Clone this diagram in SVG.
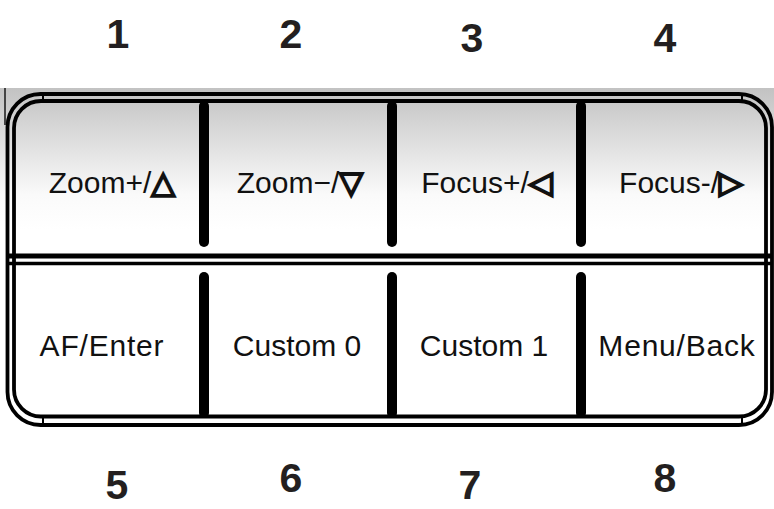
<svg xmlns="http://www.w3.org/2000/svg" width="774" height="509" viewBox="0 0 774 509">
  <defs>
    <linearGradient id="topShade" x1="0" y1="88" x2="0" y2="230" gradientUnits="userSpaceOnUse">
      <stop offset="0" stop-color="#c2c2c2"/>
      <stop offset="0.75" stop-color="#fafafa"/>
      <stop offset="1" stop-color="#ffffff"/>
    </linearGradient>
  </defs>
  <style>
    .frame { fill: none; stroke: #000; stroke-width: 3.8; }
    .bar { stroke: #000; stroke-width: 10; stroke-linecap: round; }
    .lbl { font-family: "Liberation Sans", Arial, sans-serif; font-size: 30px; fill: #111; text-anchor: middle; }
    .sym { font-family: "DejaVu Sans", sans-serif; font-weight: normal; font-size: 31px; stroke: #111; stroke-width: 2.2; }
    .wide { letter-spacing: 0.8px; }
    .num { font-family: "Liberation Sans", Arial, sans-serif; font-weight: bold; font-size: 41px; fill: #231f20; text-anchor: middle; }
  </style>
  <rect x="0" y="0" width="774" height="509" fill="#fff"/>
  <rect x="0" y="88" width="774" height="172" fill="url(#topShade)"/>
  <rect x="16" y="266" width="748" height="149" fill="#fff"/>
  <line x1="5" y1="88" x2="5" y2="125" stroke="#444" stroke-width="2"/>

  <g id="frame">
    <rect class="frame" x="7.5" y="94" width="764.5" height="331" rx="33"/>
    <rect class="frame" x="14" y="101" width="752" height="315.5" rx="27"/>
    <line x1="7.5" y1="256" x2="772" y2="256" stroke="#000" stroke-width="5"/>
    <line x1="7.5" y1="263.5" x2="772" y2="263.5" stroke="#000" stroke-width="3.5"/>
    <g stroke="#000" stroke-width="2">
      <line x1="43" y1="93" x2="43" y2="102"/>
      <line x1="742" y1="93" x2="742" y2="102"/>
      <line x1="43" y1="415" x2="43" y2="426"/>
      <line x1="742" y1="415" x2="742" y2="426"/>
    </g>
  </g>

  <g id="connectors">
    <line class="bar" x1="204" y1="106" x2="204" y2="242"/>
    <line class="bar" x1="392" y1="106" x2="392" y2="242"/>
    <line class="bar" x1="581" y1="106" x2="581" y2="242"/>
    <line class="bar" x1="204" y1="277" x2="204" y2="413"/>
    <line class="bar" x1="392" y1="277" x2="392" y2="413"/>
    <line class="bar" x1="581" y1="277" x2="581" y2="413"/>
  </g>

  <g id="btn1"><text class="lbl" x="112" y="193">Zoom+/<tspan class="sym">△</tspan></text></g>
  <g id="btn2"><text class="lbl" x="300" y="193">Zoom−/<tspan class="sym">▽</tspan></text></g>
  <g id="btn3"><text class="lbl" x="487" y="193">Focus+/<tspan class="sym">◁</tspan></text></g>
  <g id="btn4"><text class="lbl" x="681" y="193">Focus-/<tspan class="sym">▷</tspan></text></g>
  <g id="btn5"><text class="lbl wide" x="102" y="356">AF/Enter</text></g>
  <g id="btn6"><text class="lbl" x="297" y="356">Custom 0</text></g>
  <g id="btn7"><text class="lbl" x="484" y="356">Custom 1</text></g>
  <g id="btn8"><text class="lbl wide" x="677" y="356">Menu/Back</text></g>

  <g id="numbers">
    <text class="num" x="118" y="48">1</text>
    <text class="num" x="291" y="48">2</text>
    <text class="num" x="472" y="52">3</text>
    <text class="num" x="665" y="52">4</text>
    <text class="num" x="117" y="499">5</text>
    <text class="num" x="291" y="492">6</text>
    <text class="num" x="470" y="499">7</text>
    <text class="num" x="665" y="492">8</text>
  </g>
</svg>
